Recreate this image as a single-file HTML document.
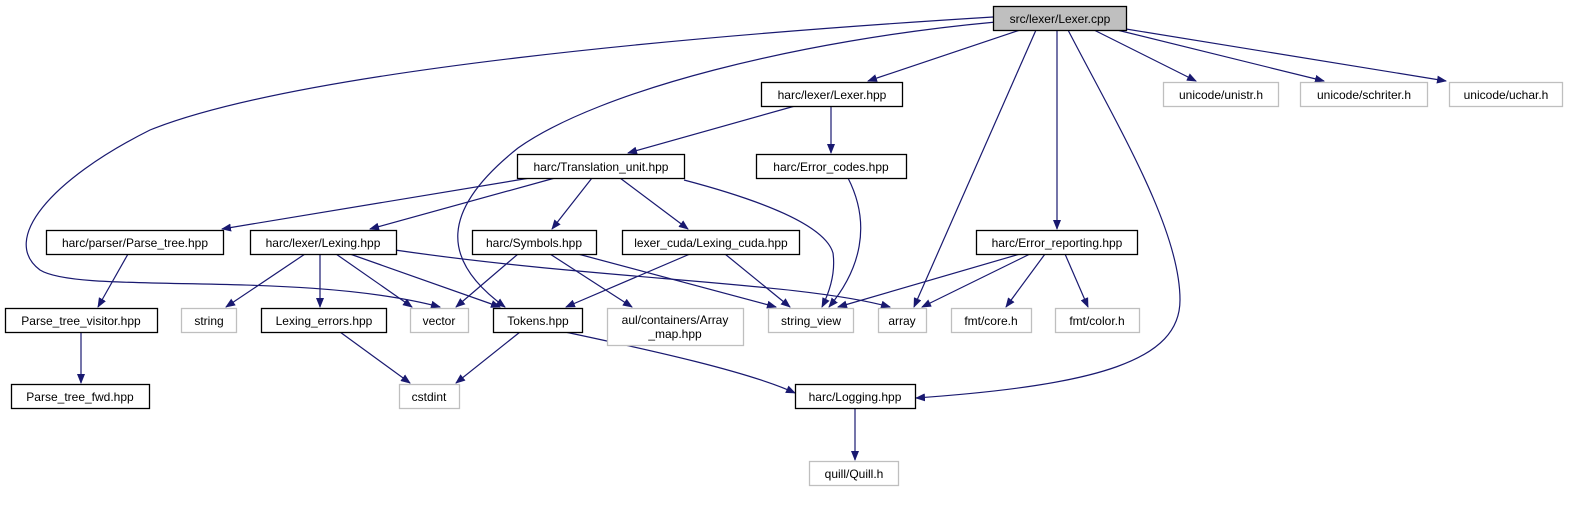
<!DOCTYPE html>
<html><head><meta charset="utf-8"><style>
html,body{margin:0;padding:0;background:#fff;}
svg text{font-family:"Liberation Sans",sans-serif;font-size:12px;fill:#000;}
</style></head><body>
<svg width="1581" height="500" viewBox="0 0 1581 500" xmlns="http://www.w3.org/2000/svg">
<defs><marker id="a" markerWidth="10" markerHeight="8" refX="9" refY="4" orient="auto" markerUnits="userSpaceOnUse"><path d="M0,0 L10,4 L0,8 Z" fill="#191970"/></marker></defs>
<g fill="none" stroke="#191970" stroke-width="1.2" marker-end="url(#a)">
<path d="M993,17 C700,35 300,70 150,130 C50,180 0,240 40,270 C80,295 300,270 440,307"/>
<path d="M996,22 C800,40 600,90 518,148 C440,210 440,260 505,307"/>
<path d="M1020,30 L868,81"/>
<path d="M1036,30 L914,307"/>
<path d="M1057,30 L1057,229"/>
<path d="M1068,30 C1120,130 1180,230 1180,300 C1180,360 1100,385 916,398"/>
<path d="M1094,30 L1196,81"/>
<path d="M1117,30 L1324,81"/>
<path d="M1126,29 L1446,81"/>
<path d="M795,106 L628,153"/>
<path d="M831,106 L831,153"/>
<path d="M848,178 C872,225 860,270 829,307"/>
<path d="M530,178 L222,229"/>
<path d="M555,178 L370,229"/>
<path d="M592,178 L552,229"/>
<path d="M620,178 L688,229"/>
<path d="M684,180 C760,200 825,225 833,253 C836,275 828,295 822,307"/>
<path d="M128,254 L98,307"/>
<path d="M305,254 L226,307"/>
<path d="M320,254 L320,307"/>
<path d="M336,254 L412,307"/>
<path d="M350,254 L500,307"/>
<path d="M395,250 C600,280 800,282 890,307"/>
<path d="M518,254 L456,307"/>
<path d="M550,254 L632,307"/>
<path d="M578,254 L776,307"/>
<path d="M690,254 L566,307"/>
<path d="M725,254 L790,307"/>
<path d="M1020,254 L838,307"/>
<path d="M1030,254 L922,307"/>
<path d="M1045,254 L1006,307"/>
<path d="M1065,254 L1088,307"/>
<path d="M81,332 L81,383"/>
<path d="M340,332 L410,383"/>
<path d="M520,332 L456,383"/>
<path d="M565,332 C650,350 750,372 795,393"/>
<path d="M855,408 L855,460"/>
</g>
<g stroke-width="1.3">
<rect x="993.5" y="6.5" width="133" height="24" fill="#bfbfbf" stroke="#000"/>
<g fill="#fff" stroke="#000">
<rect x="761.5" y="82.5" width="141" height="24"/>
<rect x="756.5" y="154.5" width="150" height="24"/>
<rect x="517.5" y="154.5" width="167" height="24"/>
<rect x="46.5" y="230.5" width="177" height="24"/>
<rect x="250.5" y="230.5" width="146" height="24"/>
<rect x="472.5" y="230.5" width="124" height="24"/>
<rect x="622.5" y="230.5" width="177" height="24"/>
<rect x="976.5" y="230.5" width="161" height="24"/>
<rect x="5.5" y="308.5" width="152" height="24"/>
<rect x="261.5" y="308.5" width="125" height="24"/>
<rect x="493.5" y="308.5" width="89" height="24"/>
<rect x="11.5" y="384.5" width="138" height="24"/>
<rect x="795.5" y="384.5" width="120" height="24"/>
</g>
<g fill="#fff" stroke="#bfbfbf">
<rect x="1163.5" y="82.5" width="115" height="24"/>
<rect x="1300.5" y="82.5" width="127" height="24"/>
<rect x="1449.5" y="82.5" width="113" height="24"/>
<rect x="181.5" y="308.5" width="55" height="24"/>
<rect x="410.5" y="308.5" width="58" height="24"/>
<rect x="607.5" y="308.5" width="136" height="37"/>
<rect x="768.5" y="308.5" width="85" height="24"/>
<rect x="878.5" y="308.5" width="48" height="24"/>
<rect x="951.5" y="308.5" width="80" height="24"/>
<rect x="1055.5" y="308.5" width="84" height="24"/>
<rect x="399.5" y="384.5" width="60" height="24"/>
<rect x="809.5" y="461.5" width="89" height="24"/>
</g>
</g>
<g text-anchor="middle">
<text x="1060" y="23">src/lexer/Lexer.cpp</text>
<text x="832" y="99">harc/lexer/Lexer.hpp</text>
<text x="831" y="171">harc/Error_codes.hpp</text>
<text x="601" y="171">harc/Translation_unit.hpp</text>
<text x="135" y="247">harc/parser/Parse_tree.hpp</text>
<text x="323" y="247">harc/lexer/Lexing.hpp</text>
<text x="534" y="247">harc/Symbols.hpp</text>
<text x="711" y="247">lexer_cuda/Lexing_cuda.hpp</text>
<text x="1057" y="247">harc/Error_reporting.hpp</text>
<text x="81" y="325">Parse_tree_visitor.hpp</text>
<text x="324" y="325">Lexing_errors.hpp</text>
<text x="538" y="325">Tokens.hpp</text>
<text x="80" y="401">Parse_tree_fwd.hpp</text>
<text x="855" y="401">harc/Logging.hpp</text>
</g>
<g text-anchor="middle" fill="#000">
<text x="1221" y="99">unicode/unistr.h</text>
<text x="1364" y="99">unicode/schriter.h</text>
<text x="1506" y="99">unicode/uchar.h</text>
<text x="209" y="325">string</text>
<text x="439" y="325">vector</text>
<text x="675" y="324">aul/containers/Array</text>
<text x="675" y="338">_map.hpp</text>
<text x="811" y="325">string_view</text>
<text x="902" y="325">array</text>
<text x="991" y="325">fmt/core.h</text>
<text x="1097" y="325">fmt/color.h</text>
<text x="429" y="401">cstdint</text>
<text x="854" y="478">quill/Quill.h</text>
</g>
</svg>
</body></html>
